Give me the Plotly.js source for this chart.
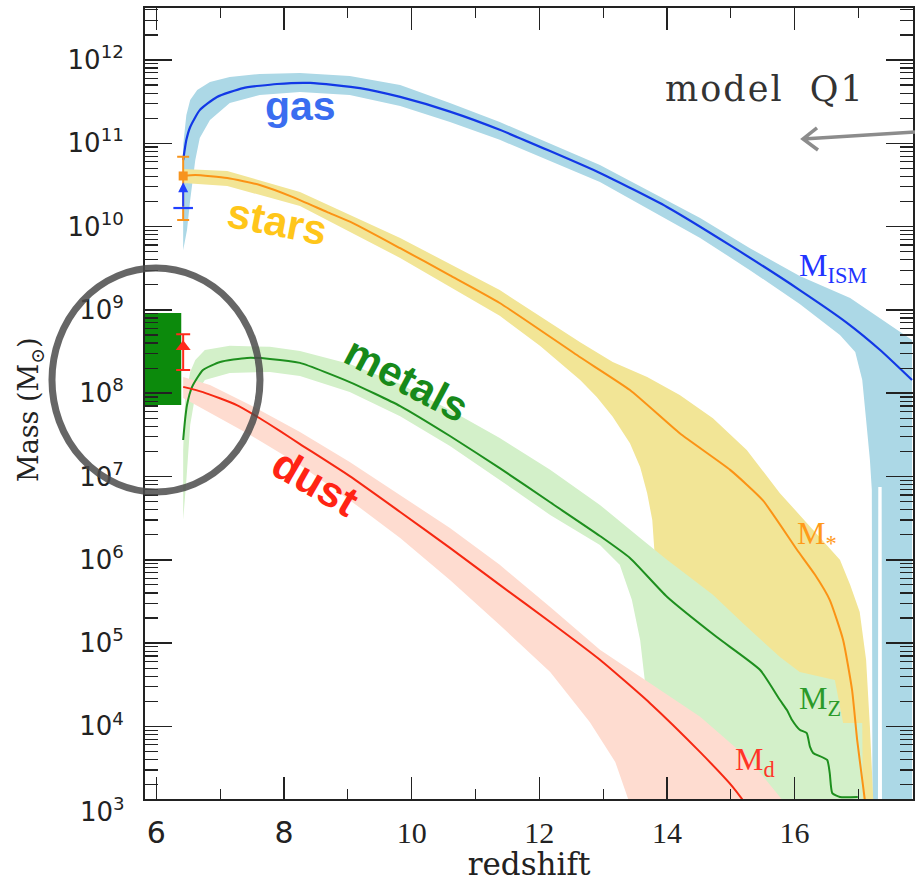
<!DOCTYPE html>
<html>
<head>
<meta charset="utf-8">
<script src="https://cdn.plot.ly/plotly-3.0.1.min.js"></script>
<style>
  html, body { margin: 0; padding: 0; background: #ffffff; }
  #chart { width: 915px; height: 882px; }
</style>
</head>
<body>
<div id="chart"></div>
<script>
// ---- Gas (ISM) mass: median track and spread ----
const gasZ = [6.42, 6.47, 6.53, 6.68, 6.95, 7.36, 7.89, 8.41, 9.19, 9.82, 10.60, 11.38, 12.95, 14.00, 15.03, 16.08, 16.82, 17.34, 17.84];
const gasM = [6.3e10, 1.1e11, 1.57e11, 2.5e11, 3.6e11, 4.6e11, 5.15e11, 5.3e11, 4.6e11, 3.6e11, 2.4e11, 1.45e11, 4.4e10, 1.72e10, 5.7e9, 1.73e9, 7.0e8, 3.3e8, 1.44e8];
const gasUpZ = [6.42, 6.47, 6.53, 6.64, 6.84, 7.15, 7.62, 8.25, 9.03, 9.82, 10.60, 11.38, 12.95, 14.52, 15.30, 16.08, 16.87, 17.34, 17.84];
const gasUpM = [9.5e10, 2.19e11, 3.3e11, 4.37e11, 5.45e11, 6.25e11, 6.8e11, 6.98e11, 6.43e11, 5.0e11, 3.05e11, 1.8e11, 5.5e10, 1.27e10, 5.5e9, 2.55e9, 1.39e9, 8.0e8, 4.35e8];
const gasLoZ = [6.42, 6.48, 6.53, 6.61, 6.68, 6.84, 7.15, 7.62, 8.25, 9.03, 9.82, 10.60, 11.38, 12.95, 14.52, 15.30, 16.08, 16.71, 16.95, 17.06, 17.12, 17.18, 17.21, 17.22, 17.306, 17.311, 17.364, 17.369, 17.84];
const gasLoM = [5.2e9, 9.1e9, 2.08e10, 6.3e10, 1.16e11, 1.9e11, 3.05e11, 3.8e11, 4.13e11, 3.8e11, 2.8e11, 1.8e11, 1.1e11, 3.43e10, 7.3e9, 3.0e9, 1.18e9, 5.0e8, 3.13e8, 1.44e8, 4.8e7, 1.58e7, 6.9e6, 1e3, 1e3, 7.5e6, 7.5e6, 1e3, 1e3];

// ---- Stellar mass ----
const starsZ = [6.42, 6.61, 7.11, 7.62, 8.14, 8.67, 9.08, 9.82, 10.60, 11.38, 12.64, 13.42, 14.20, 14.99, 15.50, 16.04, 16.32, 16.55, 16.76, 16.90, 16.98, 17.06, 17.12];
const starsM = [4.05e10, 4.16e10, 3.83e10, 3.16e10, 2.26e10, 1.5e10, 1.1e10, 5.5e9, 2.6e9, 1.21e9, 2.7e8, 1.09e8, 3.3e7, 1.2e7, 5.2e6, 1.31e6, 6.6e5, 3.3e5, 1.09e5, 2.74e4, 6.9e3, 2.28e3, 1e3];
const starsUpZ = [6.42, 7.11, 8.25, 9.82, 11.38, 12.64, 13.15, 13.69, 14.20, 14.72, 15.25, 15.77, 16.29, 16.71, 16.87, 17.02, 17.12, 17.18, 17.23, 17.24];
const starsUpM = [4.9e10, 4.65e10, 2.6e10, 7.3e9, 1.73e9, 4.1e8, 2.37e8, 1.56e8, 9.5e7, 5.0e7, 2.08e7, 6.3e6, 2.28e6, 1.0e6, 5.0e5, 2.36e5, 6.3e4, 9.8e3, 1.42e3, 1e3];
const starsLoZ = [6.42, 7.11, 8.25, 9.82, 11.38, 12.01, 12.64, 12.90, 13.15, 13.42, 13.58, 13.69, 13.77, 13.81, 13.83, 13.84];
const starsLoM = [3.33e10, 3.07e10, 1.77e10, 4.2e9, 8.5e8, 3.7e8, 1.44e8, 9.0e7, 5.2e7, 2.5e7, 1.3e7, 6.3e6, 3.0e6, 1.08e6, 3.3e5, 1e3];

// ---- Metal mass ----
const metalsZ = [6.42, 6.45, 6.48, 6.56, 6.73, 7.00, 7.42, 7.78, 8.25, 9.03, 9.82, 10.60, 11.38, 12.17, 12.95, 13.42, 14.00, 14.78, 15.46, 15.77, 15.88, 15.96, 16.08, 16.19, 16.24, 16.29, 16.51, 16.55, 16.59, 16.71, 16.99];
const metalsM = [2.74e7, 4.8e7, 7.2e7, 1.19e8, 1.9e8, 2.37e8, 2.65e8, 2.58e8, 2.31e8, 1.36e8, 7.0e7, 3.06e7, 1.26e7, 4.9e6, 1.93e6, 1.05e6, 3.6e5, 1.18e5, 4.75e4, 2.07e4, 1.57e4, 1.19e4, 9.1e3, 8.3e3, 5.7e3, 4.8e3, 3.95e3, 2.76e3, 1.58e3, 1.42e3, 1.42e3];
const metalsUpZ = [6.42, 6.45, 6.53, 6.61, 6.76, 7.15, 7.78, 8.25, 9.03, 9.82, 10.60, 11.38, 12.17, 12.95, 13.58, 14.00, 14.72, 15.22, 15.77, 16.08, 16.63, 16.76, 17.06, 17.07];
const metalsUpM = [2.08e7, 8.3e7, 1.8e8, 2.5e8, 3.3e8, 3.7e8, 3.6e8, 3.2e8, 2.24e8, 1.29e8, 6.3e7, 2.9e7, 1.2e7, 4.55e6, 1.83e6, 1.0e6, 3.8e5, 1.65e5, 6.8e4, 4.5e4, 3.6e4, 1.1e4, 1.1e4, 1e3];
const metalsLoZ = [6.42, 6.47, 6.53, 6.61, 6.76, 7.15, 7.78, 8.25, 9.03, 9.82, 10.60, 11.38, 12.17, 12.95, 13.26, 13.45, 13.58, 13.67, 13.73, 13.78];
const metalsLoM = [3.0e6, 9.1e6, 4.15e7, 9.5e7, 1.44e8, 1.75e8, 1.8e8, 1.61e8, 1.03e8, 5.3e7, 2.32e7, 9.1e6, 3.45e6, 1.5e6, 8.7e5, 3.3e5, 1.09e5, 2.74e4, 6.9e3, 1e3];

// ---- Dust mass ----
const dustZ = [6.42, 6.73, 7.26, 7.62, 7.94, 8.25, 9.03, 9.82, 10.60, 11.38, 12.17, 12.95, 13.73, 14.52, 15.03, 15.30];
const dustM = [1.19e8, 1.03e8, 7.2e7, 5.0e7, 3.5e7, 2.45e7, 1.01e7, 3.75e6, 1.39e6, 5.0e5, 1.79e5, 6.3e4, 1.91e4, 4.9e3, 1.88e3, 1e3];
const dustUpZ = [6.42, 6.84, 7.47, 8.25, 9.03, 9.82, 10.60, 11.38, 12.17, 12.95, 13.73, 14.52, 15.30, 15.80, 15.93];
const dustUpM = [1.56e8, 1.25e8, 7.2e7, 3.42e7, 1.49e7, 6.0e6, 2.41e6, 8.7e5, 2.71e5, 8.3e4, 3.3e4, 1.3e4, 3.95e3, 1.31e3, 1e3];
const dustLoZ = [6.42, 7.47, 8.25, 9.03, 9.82, 10.60, 11.38, 12.17, 12.79, 13.19, 13.45];
const dustLoM = [8.75e7, 3.15e7, 1.37e7, 5.2e6, 1.83e6, 5.7e5, 1.65e5, 4.5e4, 1.13e4, 3.74e3, 1e3];

// ---- Observed host-galaxy constraints ----
const obsZ = 6.42;
const starObs = [4.05e10, 1.2e10, 6.9e10];   // value, lower, upper
const dustObs = [3.6e8, 1.9e8, 5.1e8];       // value, lower, upper
const gasLimit = [1.67e10, 3.4e10];          // lower limit and arrow tip
const dynZ = [5.5, 6.39];
const dynM = [7.2e7, 9.2e8];

// ---- Axis ticks ----
const xTicks = [6, 8, 10, 12, 14, 16];
const xTickText = ['<span style="font-family:DejaVu Sans">6</span>', '<span style="font-family:DejaVu Sans">8</span>', '10', '12', '14', '16'];
const xMinor = [7, 9, 11, 13, 15, 17];
const yExp = [4, 5, 6, 7, 8, 9, 10, 11, 12];

const yTickVals = yExp.map(e => Math.pow(10, e));
const yTickText = yExp.map(e => '10<sup>' + e + '</sup>');
const yMinor = [];
for (let e = 3; e <= 12; e++) for (let m = 2; m <= 9; m++) yMinor.push(m * Math.pow(10, e));

function band(upZ, upM, loZ, loM, color) {
  return {
    x: upZ.concat(loZ.slice().reverse()),
    y: upM.concat(loM.slice().reverse()),
    mode: 'lines', fill: 'toself', fillcolor: color,
    line: { width: 0, color: color }, hoverinfo: 'skip', showlegend: false
  };
}
function track(z, m, color, w) {
  return { x: z, y: m, mode: 'lines', line: { color: color, width: w, shape: 'spline', smoothing: 0.5 },
           hoverinfo: 'skip', showlegend: false };
}

const traces = [
  band(gasUpZ, gasUpM, gasLoZ, gasLoM, '#acd8e6'),
  band(starsUpZ, starsUpM, starsLoZ, starsLoM, '#f2e596'),
  band(metalsUpZ, metalsUpM, metalsLoZ, metalsLoM, '#d3f0c9'),
  band(dustUpZ, dustUpM, dustLoZ, dustLoM, '#fedcd0'),
  { x: [dynZ[0], dynZ[1], dynZ[1], dynZ[0]], y: [dynM[0], dynM[0], dynM[1], dynM[1]],
    mode: 'lines', fill: 'toself', fillcolor: '#0c8a0c', line: { width: 0 }, hoverinfo: 'skip', showlegend: false },
  track(gasZ, gasM, '#1238e6', 2.2),
  track(starsZ, starsM, '#fb9315', 2),
  track(metalsZ, metalsM, '#1e8f1e', 2),
  track(dustZ, dustM, '#f62812', 2),
  { x: [obsZ], y: [starObs[0]], mode: 'markers',
    marker: { symbol: 'square', size: 9, color: '#f7941d' },
    error_y: { type: 'data', symmetric: false, array: [starObs[2] - starObs[0]], arrayminus: [starObs[0] - starObs[1]],
               color: '#f7941d', thickness: 2, width: 6 },
    hoverinfo: 'skip', showlegend: false },
  { x: [obsZ], y: [dustObs[0]], mode: 'markers',
    marker: { symbol: 'triangle-up', size: 13, color: '#ff2a1a' },
    error_y: { type: 'data', symmetric: false, array: [dustObs[2] - dustObs[0]], arrayminus: [dustObs[0] - dustObs[1]],
               color: '#ff2a1a', thickness: 2, width: 7 },
    hoverinfo: 'skip', showlegend: false },
  { x: [obsZ], y: [gasLimit[0]], mode: 'markers',
    marker: { symbol: 'line-ew', size: 14, line: { color: '#2040ff', width: 2.2 } },
    hoverinfo: 'skip', showlegend: false }
];

const labelFont = (size, color, family) => ({ family: family || 'Liberation Sans', size: size, color: color });
function note(x, y, text, font, angle) {
  return { xref: 'paper', yref: 'paper', x: x, y: y, xanchor: 'center', yanchor: 'middle',
           text: text, showarrow: false, textangle: angle || 0, font: font };
}
function tag(x, y, text, color) {
  return { xref: 'paper', yref: 'paper', x: x, y: y, xanchor: 'left', yanchor: 'middle',
           text: text, showarrow: false, font: labelFont(32, color, 'Liberation Serif') };
}

const layout = {
  width: 915, height: 882,
  margin: { l: 145, r: 2, t: 8, b: 83 },
  paper_bgcolor: '#ffffff', plot_bgcolor: '#ffffff',
  showlegend: false, hovermode: false,
  xaxis: {
    range: [5.822, 17.855], showgrid: false, zeroline: false,
    tickmode: 'array', tickvals: xTicks, ticktext: xTickText,
    ticks: 'inside', ticklen: 22, tickwidth: 1.5, tickcolor: '#222',
    showline: true, linewidth: 2, linecolor: '#222', mirror: 'allticks',
    minor: { tickmode: 'array', tickvals: xMinor, ticks: 'inside', ticklen: 10, tickwidth: 1.2, tickcolor: '#222' },
    tickfont: { family: 'Liberation Serif', size: 30, color: '#222' },
    ticklabelstandoff: 6,
    title: { text: 'redshift', font: { family: 'DejaVu Serif', size: 31, color: '#222' }, standoff: 4 }
  },
  yaxis: {
    type: 'log', range: [3.128, 12.624], showgrid: false, zeroline: false,
    tickmode: 'array', tickvals: yTickVals, ticktext: yTickText,
    ticks: 'inside', ticklen: 27, tickwidth: 1.5, tickcolor: '#222',
    showline: true, linewidth: 2, linecolor: '#222', mirror: 'allticks',
    minor: { tickmode: 'array', tickvals: yMinor, ticks: 'inside', ticklen: 13, tickwidth: 1.2, tickcolor: '#222' },
    tickfont: { family: 'DejaVu Sans', size: 26, color: '#222' },
    ticklabelstandoff: 14
  },
  shapes: [
    { type: 'circle', xref: 'paper', yref: 'paper', x0: -0.1211, x1: 0.1497, y0: 0.3881, y1: 0.6713,
      line: { color: 'rgba(75,75,75,0.85)', width: 7 } },
    { type: 'path', xref: 'paper', yref: 'paper',
      path: 'M 1.0026,0.8432 L 0.8568,0.8344 M 0.875,0.8483 L 0.8568,0.8344 L 0.8763,0.8205',
      line: { color: '#8c8c8c', width: 3.5 } }
  ],
  annotations: [
    // vertical axis caption
    note(-0.1484, 0.4918, 'Mass (M<sub>⊙</sub>)', labelFont(27, '#222', 'DejaVu Serif'), -90),
    { xref: 'paper', yref: 'paper', x: -0.0234, y: -0.0139, xanchor: 'right', yanchor: 'middle',
      text: '10<sup>3</sup>', showarrow: false, font: { family: 'DejaVu Sans', size: 26, color: '#222' } },
    { xref: 'x', yref: 'y', axref: 'x', ayref: 'y', x: obsZ, y: Math.log10(gasLimit[1]),
      ax: obsZ, ay: Math.log10(gasLimit[0]), text: '', showarrow: true,
      arrowhead: 2, arrowsize: 1, arrowwidth: 2, arrowcolor: '#2040ff', standoff: 0 },
    note(0.2031, 0.876, '<b>gas</b>', labelFont(41, '#3a6df0')),
    note(0.1719, 0.7295, '<b>stars</b>', labelFont(42, '#ffc61a'), 11),
    note(0.3411, 0.530, '<b>metals</b>', labelFont(42, '#17891a'), 28),
    note(0.2214, 0.4008, '<b>dust</b>', labelFont(43, '#ff2414'), 30),
    note(0.8073, 0.897, 'model\u00a0\u00a0Q1', labelFont(35, '#333', 'DejaVu Serif')),
    tag(0.849, 0.672, 'M<sub>ISM</sub>', '#2233ff'),
    tag(0.846, 0.3325, 'M<sub>*</sub>', '#ff9a1a'),
    tag(0.849, 0.125, 'M<sub>Z</sub>', '#2a9a2a'),
    tag(0.7656, 0.0468, 'M<sub>d</sub>', '#ff3528')
  ]
};

Plotly.newPlot('chart', traces, layout, { staticPlot: true, displayModeBar: false }).then(gd => {
  // widen the tracking of the model name
  gd.querySelectorAll('.annotation-text').forEach(t => {
    if (t.textContent.indexOf('model') === 0) t.style.letterSpacing = '2px';
  });
});
</script>
</body>
</html>
